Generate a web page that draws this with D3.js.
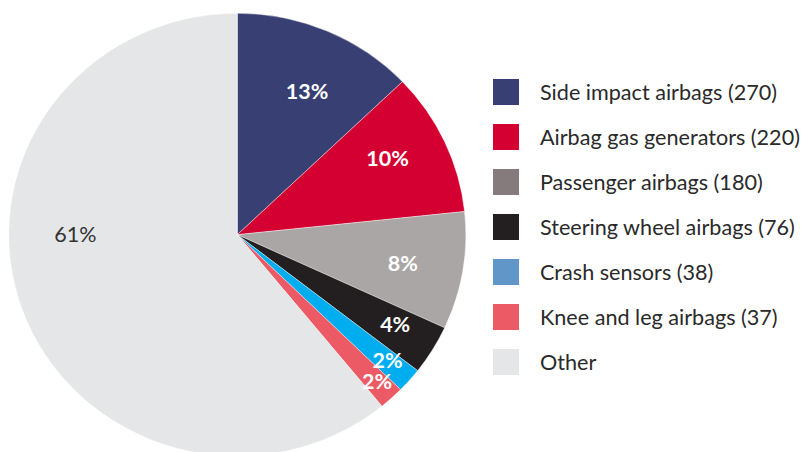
<!DOCTYPE html>
<html>
<head>
<meta charset="utf-8">
<script src="https://cdn.jsdelivr.net/npm/d3@7"></script>
<style>
  html, body { margin: 0; padding: 0; background: #ffffff; }
  svg { display: block; }
</style>
</head>
<body>
<svg id="chart" width="809" height="452"></svg>
<script>
// ---- data ----
const categories = ["Side impact airbags", "Airbag gas generators", "Passenger airbags",
                    "Steering wheel airbags", "Crash sensors", "Knee and leg airbags", "Other"];
const values = [270, 220, 180, 76, 38, 37, 1279];
const percentLabels = ["13%", "10%", "8%", "4%", "2%", "2%", "61%"];
const legendLabels = ["Side impact airbags (270)", "Airbag gas generators (220)", "Passenger airbags (180)",
                      "Steering wheel airbags (76)", "Crash sensors (38)", "Knee and leg airbags (37)", "Other"];

// ---- style ----
const sliceColors = ["#373f73", "#d50032", "#aaa6a5", "#231f20", "#00aeef", "#eb5a65", "#e5e6e8"];
const legendColors = ["#373f73", "#d50032", "#857b7c", "#231f20", "#6196c8", "#eb5a65", "#e5e6e8"];
const labelRadius = [164, 170, 168, 183, 198, 206, 162];
const labelAngleShift = [2, -3, 0.5, -1, -0.5, -0.3, 20]; // degrees
const cx = 237.3, cy = 234.7, R = 228.5, sy = 0.969;
const FONT = "Lato, 'Source Sans Pro', sans-serif";

const svg = d3.select("#chart");
const pie = d3.pie().sort(null).value(d => d)(values);
const arc = d3.arc().innerRadius(0).outerRadius(R);

const g = svg.append("g").attr("transform", `translate(${cx},${cy}) scale(1,${sy})`);
g.selectAll("path").data(pie).join("path")
  .attr("d", arc)
  .attr("fill", (d, i) => sliceColors[i])
  .attr("stroke", "#ffffff")
  .attr("stroke-width", 0.4);

// labels
svg.append("g").selectAll("text").data(pie).join("text")
  .attr("x", (d, i) => {
    const a = (d.startAngle + d.endAngle) / 2 + labelAngleShift[i] * Math.PI / 180;
    return cx + labelRadius[i] * Math.sin(a);
  })
  .attr("y", (d, i) => {
    const a = (d.startAngle + d.endAngle) / 2 + labelAngleShift[i] * Math.PI / 180;
    return cy - labelRadius[i] * Math.cos(a) * sy;
  })
  .attr("text-anchor", "middle")
  .attr("dominant-baseline", "central")
  .attr("font-family", FONT)
  .attr("font-size", 21.5)
  .attr("font-weight", (d, i) => i === 6 ? 400 : 700)
  .attr("fill", (d, i) => i === 6 ? "#333333" : "#ffffff")
  .text((d, i) => percentLabels[i]);

// legend
const legend = svg.append("g");
const rowY = d3.scalePoint().domain(categories).range([92, 362]);
const items = legend.selectAll("g").data(categories).join("g")
  .attr("transform", d => `translate(493,${rowY(d)})`);
items.append("rect")
  .attr("x", 0).attr("y", -13).attr("width", 26).attr("height", 26)
  .attr("fill", (d, i) => legendColors[i]);
items.append("text")
  .attr("x", 47).attr("y", 0)
  .attr("dominant-baseline", "central")
  .attr("font-family", FONT)
  .attr("font-size", 21.6)
  .attr("fill", "#2a2a2a")
  .text((d, i) => legendLabels[i]);
</script>
</body>
</html>
